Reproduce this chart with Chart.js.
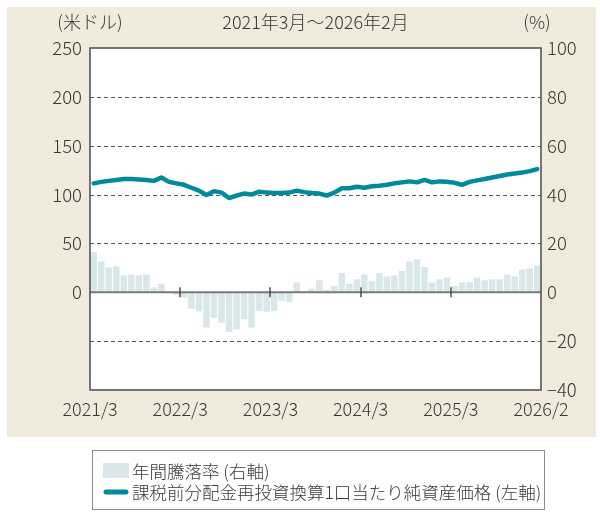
<!DOCTYPE html>
<html>
<head>
<meta charset="utf-8">
<script src="https://cdn.jsdelivr.net/npm/chart.js@4/dist/chart.umd.min.js"></script>
<style>
html,body{margin:0;padding:0;background:#fff;}
#wrap{position:relative;width:600px;height:513px;}
</style>
</head>
<body>
<div id="wrap"><canvas id="c" width="600" height="513"></canvas></div>
<script>
const categories = [
 '2021/3','2021/4','2021/5','2021/6','2021/7','2021/8','2021/9','2021/10','2021/11','2021/12',
 '2022/1','2022/2','2022/3','2022/4','2022/5','2022/6','2022/7','2022/8','2022/9','2022/10','2022/11','2022/12',
 '2023/1','2023/2','2023/3','2023/4','2023/5','2023/6','2023/7','2023/8','2023/9','2023/10','2023/11','2023/12',
 '2024/1','2024/2','2024/3','2024/4','2024/5','2024/6','2024/7','2024/8','2024/9','2024/10','2024/11','2024/12',
 '2025/1','2025/2','2025/3','2025/4','2025/5','2025/6','2025/7','2025/8','2025/9','2025/10','2025/11','2025/12',
 '2026/1','2026/2'
];
// 課税前分配金再投資換算1口当たり純資産価格 (米ドル, 左軸)
const navValues = [
 111.5,113,114,115,116,116,115.5,115,114,117.5,
 113,111.5,110,107,104,99.5,103.5,102,96.5,99,101,100,
 103,102,101.5,101.5,102,104,102.5,101.5,101,99,102,106.5,
 106.5,108,107,108.5,109,110,111.5,112.5,113.5,112.5,115,112.5,
 113.5,113,112,110,113,114.5,116,117.5,119,120.5,121.5,122.5,
 124,126
];
// 年間騰落率 (%, 右軸)
const annualReturn = [
 16.5,12.6,10.1,10.6,6.9,7.3,6.9,7.3,2.0,3.5,
 0,-1,-2.2,-6.7,-7.8,-14.4,-10.5,-12.4,-16.2,-15.2,-11,-14.4,
 -7.6,-8,-7.6,-3.5,-4,4,0,1.5,4.9,1.1,2.6,7.9,
 3.5,5.3,7.3,4.5,7.9,6.5,6.9,8.7,12.6,13.5,10.3,4.1,
 5.3,6.0,2.6,4.0,4.1,6.0,4.9,5.3,5.3,7.3,6.5,9.3,
 9.8,11
];
const xTickLabels = ['2021/3','2022/3','2023/3','2024/3','2025/3','2026/2'];
const titleText = '2021年3月～2026年2月';
const leftUnit = '(米ドル)';
const rightUnit = '(%)';
const legendBar = '年間騰落率 (右軸)';
const legendLine = '課税前分配金再投資換算1口当たり純資産価格 (左軸)';

const FONT = '"Noto Sans CJK JP", "Noto Sans", sans-serif';
const WEIGHT = '300';
const TXT = '#383838';
const BEIGE = '#F0EBDC';
const BARC = '#D9E7E9';
const LINEC = '#008A9B';

Chart.defaults.font.family = FONT;
Chart.defaults.font.weight = WEIGHT;
Chart.defaults.color = TXT;

const deco = {
  id: 'deco',
  beforeDraw(chart) {
    const ctx = chart.ctx, a = chart.chartArea;
    ctx.save();
    ctx.fillStyle = '#fff';
    ctx.fillRect(0, 0, chart.width, chart.height);
    ctx.fillStyle = BEIGE;
    ctx.fillRect(7, 7, 589, 430);
    ctx.fillStyle = '#fff';
    ctx.fillRect(a.left, a.top, a.right - a.left, a.bottom - a.top);
    ctx.restore();
  },
  beforeDatasetsDraw(chart) {
    const ctx = chart.ctx, a = chart.chartArea, y1 = chart.scales.y1;
    ctx.save();
    ctx.strokeStyle = '#555';
    ctx.lineWidth = 1;
    ctx.setLineDash([4, 3]);
    y1.ticks.forEach(t => {
      if (t.value === y1.min || t.value === y1.max || t.value === 0) return;
      const py = Math.round(y1.getPixelForValue(t.value)) + 0.5;
      ctx.beginPath(); ctx.moveTo(a.left, py); ctx.lineTo(a.right, py); ctx.stroke();
    });
    ctx.restore();
  },
  afterDatasetsDraw(chart) {
    const ctx = chart.ctx, a = chart.chartArea, y1 = chart.scales.y1, x2 = chart.scales.x2;
    ctx.save();
    const z = y1.getPixelForValue(0);
    ctx.strokeStyle = '#7a7a7a';
    ctx.lineWidth = 2;
    ctx.beginPath(); ctx.moveTo(a.left, z); ctx.lineTo(a.right, z); ctx.stroke();
    ctx.strokeStyle = '#444';
    ctx.lineWidth = 1.4;
    x2.ticks.forEach(t => {
      if (t.value === x2.min || t.value === x2.max) return;
      const px = Math.round(x2.getPixelForValue(t.value));
      ctx.beginPath(); ctx.moveTo(px, z - 5); ctx.lineTo(px, z + 5); ctx.stroke();
    });
    ctx.strokeStyle = '#555';
    ctx.lineWidth = 1.6;
    ctx.strokeRect(a.left, a.top, a.right - a.left, a.bottom - a.top);
    ctx.restore();
  },
  afterDraw(chart) {
    const ctx = chart.ctx, a = chart.chartArea;
    ctx.save();
    ctx.fillStyle = TXT;
    ctx.font = WEIGHT + ' 18px ' + FONT;
    ctx.textBaseline = 'middle';
    ctx.textAlign = 'center';
    ctx.fillText(leftUnit, a.left, 22);
    ctx.fillText(titleText, (a.left + a.right) / 2, 22);
    ctx.fillText(rightUnit, a.right - 4, 22);
    // legend
    ctx.strokeStyle = '#8a8a8a';
    ctx.lineWidth = 1;
    ctx.strokeRect(92.5, 450.5, 452, 59);
    const ds = chart.data.datasets;
    ctx.fillStyle = ds[1].backgroundColor;
    ctx.fillRect(103, 463, 26, 15);
    ctx.strokeStyle = ds[0].borderColor;
    ctx.lineWidth = 5;
    ctx.lineCap = 'round';
    ctx.beginPath(); ctx.moveTo(106, 492); ctx.lineTo(126, 492); ctx.stroke();
    ctx.fillStyle = TXT;
    ctx.textAlign = 'left';
    ctx.font = WEIGHT + ' 17.5px ' + FONT;
    ctx.fillText(ds[1].label, 132, 471);
    ctx.fillText(ds[0].label, 132, 492);
    ctx.restore();
  }
};

new Chart(document.getElementById('c'), {
  data: {
    labels: categories,
    datasets: [
      { type: 'line', label: legendLine, data: navValues, xAxisID: 'x', yAxisID: 'y',
        borderColor: LINEC, backgroundColor: LINEC, borderWidth: 4.5, pointRadius: 0,
        tension: 0, order: 0, borderJoinStyle: 'round', borderCapStyle: 'round' },
      { type: 'bar', label: legendBar, data: annualReturn, xAxisID: 'x', yAxisID: 'y1',
        backgroundColor: BARC, borderWidth: 0, barPercentage: 1, categoryPercentage: 0.87, order: 1 }
    ]
  },
  options: {
    responsive: false,
    animation: false,
    devicePixelRatio: 1,
    layout: { padding: { top: 48, left: 0, right: 0, bottom: 0 } },
    plugins: { legend: { display: false }, tooltip: { enabled: false }, title: { display: false } },
    scales: {
      x: { type: 'category', display: false, offset: true },
      x2: { type: 'linear', position: 'bottom', min: 0, max: 60,
        afterFit: s => { s.height = 123; },
        grid: { display: false, drawTicks: false }, border: { display: false },
        ticks: { stepSize: 12, autoSkip: false, maxRotation: 0, padding: 8,
          font: { size: 18, weight: WEIGHT }, color: TXT,
          callback: (v) => xTickLabels[v / 12] } },
      y: { type: 'linear', position: 'left', min: -100, max: 250,
        afterFit: s => { s.width = 90; },
        grid: { display: false, drawTicks: false }, border: { display: false },
        ticks: { stepSize: 50, padding: 8, font: { size: 18.5, weight: WEIGHT }, color: TXT,
          callback: v => (v >= 0 ? String(v) : '') } },
      y1: { type: 'linear', position: 'right', min: -40, max: 100,
        afterFit: s => { s.width = 59; },
        grid: { display: false, drawTicks: false }, border: { display: false },
        ticks: { stepSize: 20, padding: 6, font: { size: 18.5, weight: WEIGHT }, color: TXT,
          callback: v => (v < 0 ? '\u2212' + Math.abs(v) : String(v)) } }
    }
  },
  plugins: [deco]
});
</script>
</body>
</html>
